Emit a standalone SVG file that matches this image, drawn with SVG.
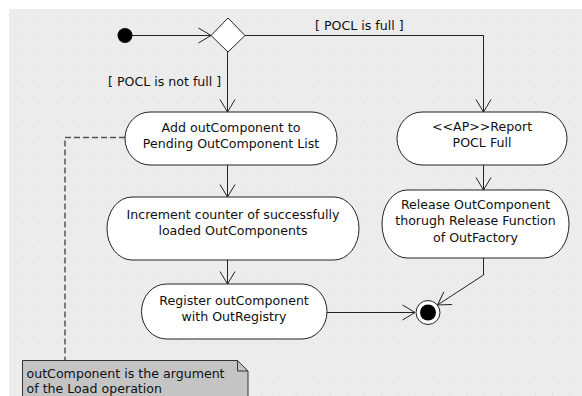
<svg xmlns="http://www.w3.org/2000/svg" width="582" height="396" viewBox="0 0 582 396">
  <defs>
    <pattern id="grid" patternUnits="userSpaceOnUse" x="22" y="17.5" width="17.1" height="17.1">
      <rect x="0" y="0" width="1" height="1" fill="#c9c9c9"/>
    </pattern>
    <marker id="open" markerUnits="userSpaceOnUse" markerWidth="16" markerHeight="18" viewBox="-14 -9 16 18" refX="0" refY="0" orient="auto">
      <path d="M -12.5 -7.5 L 0 0 L -12.5 7.5" fill="none" stroke="#222" stroke-width="1"/>
    </marker>
    <style>
      .act { fill: #ffffff; stroke: #222; stroke-width: 1; }
      .lbl { font-family: "DejaVu Sans", Verdana, sans-serif; font-size: 12.6px; fill: #111; }
      .mid { text-anchor: middle; }
      .flow { fill: none; stroke: #222; stroke-width: 1; }
      .arrow { marker-end: url(#open); }
      .anchor { fill: none; stroke: #555; stroke-width: 1.5; stroke-dasharray: 6 3; }
    </style>
  </defs>

  <!-- canvas -->
  <rect x="0" y="0" width="582" height="396" fill="#ffffff"/>
  <rect x="9" y="9" width="573" height="387" fill="#ececec"/>
  <rect x="9" y="9" width="573" height="387" fill="url(#grid)"/>

  <!-- control flows -->
  <g id="connectors">
    <path class="flow arrow" d="M 132 35.5 L 211 35.5"/>
    <path class="flow arrow" d="M 245 35.5 L 483.5 35.5 L 483.5 112"/>
    <path class="flow arrow" d="M 227.5 52 L 227.5 112"/>
    <path class="flow arrow" d="M 227.5 165 L 227.5 197"/>
    <path class="flow arrow" d="M 227.5 260 L 227.5 284"/>
    <path class="flow arrow" d="M 327 312.5 L 415 312.5"/>
    <path class="flow arrow" d="M 483.5 165 L 483.5 190"/>
    <path class="flow arrow" d="M 483.5 258 L 483.5 275 L 437.5 305"/>
    <path class="anchor" d="M 125 137.5 L 65 137.5 L 65 360"/>
    <text class="lbl" x="315" y="30">[ POCL is full ]</text>
    <text class="lbl" x="108" y="86">[ POCL is not full ]</text>
  </g>

  <!-- initial node -->
  <g id="initial">
    <circle cx="125" cy="35.5" r="7.5" fill="#000"/>
  </g>

  <!-- decision -->
  <g id="decision">
    <polygon class="act" points="211,35.5 228,18 245,35.5 228,52"/>
  </g>

  <g id="add-pending">
    <rect class="act" x="125" y="112" width="212" height="53" rx="25" ry="26.5"/>
    <text class="lbl mid" x="231" y="131.5">Add outComponent to</text>
    <text class="lbl mid" x="231" y="147.5">Pending OutComponent List</text>
  </g>

  <g id="increment-counter">
    <rect class="act" x="107" y="197" width="252" height="63" rx="25" ry="31.5"/>
    <text class="lbl mid" x="233" y="218.5">Increment counter of successfully</text>
    <text class="lbl mid" x="233" y="234.5">loaded OutComponents</text>
  </g>

  <g id="register">
    <rect class="act" x="141.5" y="284" width="185.5" height="55" rx="25" ry="27.5"/>
    <text class="lbl mid" x="234" y="305">Register outComponent</text>
    <text class="lbl mid" x="234" y="321">with OutRegistry</text>
  </g>

  <g id="report-full">
    <rect class="act" x="397" y="112" width="170" height="53" rx="25" ry="26.5"/>
    <text class="lbl mid" x="482" y="131">&lt;&lt;AP&gt;&gt;Report</text>
    <text class="lbl mid" x="482" y="147">POCL Full</text>
  </g>

  <g id="release">
    <rect class="act" x="382" y="190" width="187" height="68" rx="25" ry="34"/>
    <text class="lbl mid" x="475.5" y="208.5">Release OutComponent</text>
    <text class="lbl mid" x="475.5" y="225">thorugh Release Function</text>
    <text class="lbl mid" x="475.5" y="241.5">of OutFactory</text>
  </g>

  <!-- activity final -->
  <g id="final">
    <circle cx="428" cy="312.5" r="12" fill="#ffffff" stroke="#222" stroke-width="1"/>
    <circle cx="428" cy="312.5" r="8" fill="#000"/>
  </g>

  <!-- comment -->
  <g id="note">
    <path d="M 22.5 360.5 L 237.5 360.5 L 248 371 L 248 400 L 22.5 400 Z" fill="#c4c4c4" stroke="#333" stroke-width="1"/>
    <path d="M 237.5 360.5 L 237.5 371 L 248 371" fill="none" stroke="#333" stroke-width="1"/>
    <text class="lbl" x="26.5" y="378">outComponent is the argument</text>
    <text class="lbl" x="26.5" y="393">of the Load operation</text>
  </g>
</svg>
